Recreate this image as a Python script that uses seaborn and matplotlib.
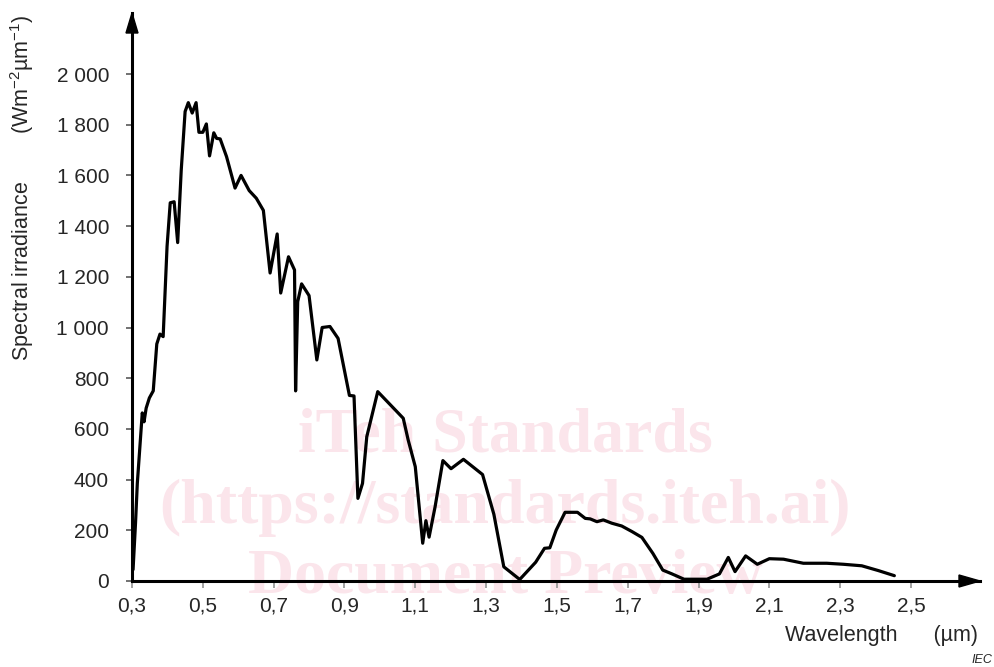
import numpy as np
import pandas as pd
import matplotlib
matplotlib.use("Agg")
import matplotlib.pyplot as plt
from matplotlib.patches import Polygon
import seaborn as sns

# Spectral irradiance curve (wavelength in micrometres, irradiance in W m-2 um-1)
wavelength = [0.303, 0.310, 0.315, 0.329, 0.334, 0.340, 0.349, 0.360, 0.370, 0.379,
              0.388, 0.399, 0.408, 0.419, 0.429, 0.439, 0.450, 0.459, 0.470, 0.481,
              0.489, 0.500, 0.510, 0.519, 0.531, 0.539, 0.549, 0.567, 0.591, 0.608,
              0.631, 0.651, 0.671, 0.690, 0.710, 0.720, 0.742, 0.759, 0.762, 0.768,
              0.779, 0.800, 0.822, 0.837, 0.859, 0.882, 0.914, 0.927, 0.938, 0.951,
              0.963, 0.994, 1.066, 1.080, 1.100, 1.121, 1.130, 1.139, 1.156, 1.178,
              1.201, 1.236, 1.290, 1.322, 1.350, 1.395, 1.440, 1.465, 1.480, 1.498,
              1.523, 1.558, 1.580, 1.594, 1.613, 1.631, 1.655, 1.683, 1.712, 1.740,
              1.771, 1.799, 1.825, 1.859, 1.924, 1.959, 1.984, 2.003, 2.033, 2.066,
              2.100, 2.140, 2.196, 2.262, 2.309, 2.361, 2.408, 2.453]
irradiance = [45, 230, 385, 663, 628, 682, 722, 750, 935, 974,
              964, 1320, 1492, 1496, 1335, 1620, 1852, 1887, 1846, 1887,
              1770, 1770, 1803, 1677, 1768, 1746, 1744, 1674, 1550, 1600,
              1540, 1510, 1462, 1215, 1369, 1136, 1279, 1227, 750, 1102,
              1172, 1126, 872, 1000, 1004, 957, 732, 730, 326, 385,
              569, 747, 642, 556, 451, 149, 238, 173, 293, 475,
              443, 480, 420, 263, 56, 6, 74, 129, 131, 201,
              271, 271, 247, 245, 234, 241, 228, 217, 195, 172,
              109, 43, 28, 7, 7, 28, 93, 37, 99, 66,
              88, 86, 70, 70, 66, 60, 41, 21]

x_ticks = [0.3, 0.5, 0.7, 0.9, 1.1, 1.3, 1.5, 1.7, 1.9, 2.1, 2.3, 2.5]
x_tick_labels = ["0,3", "0,5", "0,7", "0,9", "1,1", "1,3", "1,5", "1,7", "1,9", "2,1", "2,3", "2,5"]
y_ticks = [0, 200, 400, 600, 800, 1000, 1200, 1400, 1600, 1800, 2000]
y_tick_labels = ["0", "200", "400", "600", "800", "1 000", "1 200", "1 400", "1 600", "1 800", "2 000"]

sns.set_style("white")
plt.rcParams["font.family"] = ["Liberation Sans", "DejaVu Sans"]
plt.rcParams["mathtext.fontset"] = "custom"
plt.rcParams["mathtext.rm"] = "Liberation Sans"

FS = 15
W, H = 994, 667
fig = plt.figure(figsize=(W / 100, H / 100), dpi=100)

# axes box in pixels: left spine at x=132, baseline at y=581, arrow tips at x=980 / y=13
left, right, top, bottom = 132, 980, 13, 581
ax = fig.add_axes([left / W, 1 - bottom / H, (right - left) / W, (bottom - top) / H])

px_per_um = (911 - 132) / 2.2
px_per_unit = (581 - 74) / 2000
ax.set_xlim(0.3, 0.3 + (right - left) / px_per_um)
ax.set_ylim(0, (bottom - top) / px_per_unit)
ax.patch.set_alpha(0)

# watermark, kept underneath the curve and the axes
wm_color = "#fbe5eb"
for txt, yc in [("iTeh Standards", 437), ("(https://standards.iteh.ai)", 508), ("Document Preview", 578)]:
    ax.text(505 / W, 1 - yc / H, txt, transform=fig.transFigure, ha="center", va="center",
            fontsize=46, family="Liberation Serif", weight="bold", color=wm_color,
            zorder=0.5, clip_on=False)

df = pd.DataFrame({"wavelength": wavelength, "irradiance": irradiance})
sns.lineplot(data=df, x="wavelength", y="irradiance", ax=ax, color="black",
             lw=2.3, sort=False, estimator=None, zorder=3)

for side in ["top", "right"]:
    ax.spines[side].set_visible(False)
for side in ["left", "bottom"]:
    ax.spines[side].set_linewidth(2.2)
    ax.spines[side].set_color("black")
    ax.spines[side].set_zorder(4)

# arrow heads on both axes
hx_len, hx_half = 21 / (right - left), 6 / (bottom - top)
ax.add_patch(Polygon([[1, 0], [1 - hx_len, hx_half], [1 - hx_len, -hx_half]], closed=True,
                     transform=ax.transAxes, clip_on=False, color="black", zorder=5))
hy_len, hy_half = 20 / (bottom - top), 6 / (right - left)
ax.add_patch(Polygon([[0, 1], [-hy_half, 1 - hy_len], [hy_half, 1 - hy_len]], closed=True,
                     transform=ax.transAxes, clip_on=False, color="black", zorder=5))

ax.set_xticks(x_ticks)
ax.set_xticklabels(x_tick_labels)
ax.set_yticks(y_ticks)
ax.set_yticklabels(y_tick_labels)
ax.tick_params(axis="x", direction="out", length=5, width=1.3, color="#9a9a9a",
               labelsize=FS, pad=6.5, bottom=True)
ax.tick_params(axis="y", direction="out", length=4.5, width=1.3, color="#666666",
               labelsize=FS, pad=12, left=True)
ax.set_xlabel("")
ax.set_ylabel("")

fig.text(22 / W, 1 - 188 / H,
         "Spectral irradiance        (Wm$^{\\mathregular{-2}}$\u00b5m$^{\\mathregular{-1}}$)",
         rotation=90, ha="center", va="center", fontsize=15.5)
fig.text(978 / W, 1 - 636 / H, "Wavelength      (\u00b5m)", ha="right", va="center", fontsize=15.5)
fig.text(992 / W, 1 - 660 / H, "IEC", ha="right", va="center", fontsize=9, style="italic")

fig.savefig("out.png", dpi=100)
